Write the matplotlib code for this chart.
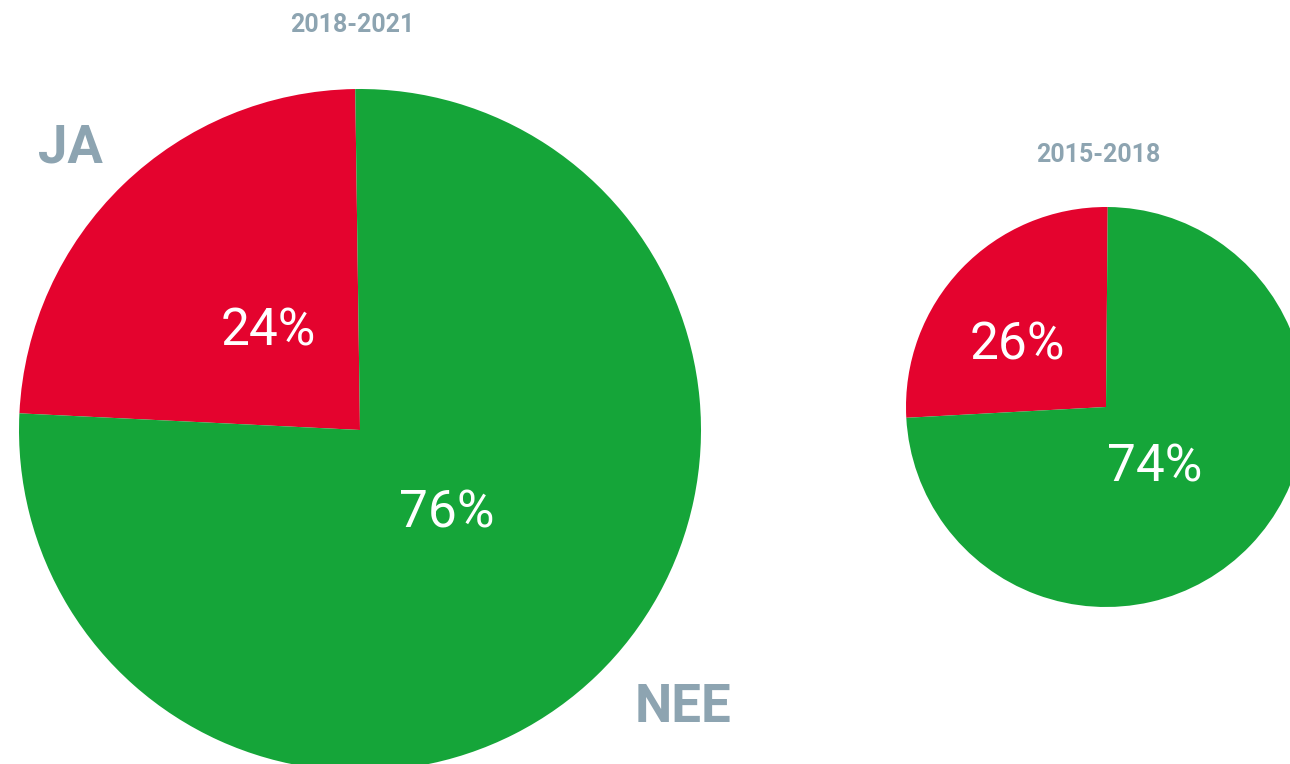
import matplotlib.pyplot as plt

# ----------------------------
# Data
# ----------------------------
labels = ["JA", "NEE"]
share_2018_2021 = [24, 76]
share_2015_2018 = [26, 74]
colors = ["#E4032E", "#15A539"]
gray = "#8DA4B1"

plt.rcParams["font.family"] = ["Roboto", "DejaVu Sans"]

fig = plt.figure(figsize=(12.9, 7.64), dpi=100)
ax = fig.add_axes([0, 0, 1, 1])

# ----------------------------
# Pies (y axis is flipped below, so angles run clockwise in data)
# ----------------------------
ax.pie(share_2018_2021, colors=colors, startangle=-90.8, counterclock=False,
       center=(360, 430), radius=341, frame=True,
       wedgeprops=dict(linewidth=0))
ax.pie(share_2015_2018, colors=colors, startangle=-89.5, counterclock=False,
       center=(1106, 407), radius=200, frame=True,
       wedgeprops=dict(linewidth=0))
ax.set_xlim(0, 1290)
ax.set_ylim(764, 0)
ax.set_aspect("equal")
ax.axis("off")

# percentage labels
pct_style = dict(color="white", fontsize=37, fontweight="normal",
                 ha="center", va="center")
ax.text(268, 331, f"{share_2018_2021[0]}%", **pct_style)
ax.text(447, 514, f"{share_2018_2021[1]}%", **pct_style)
ax.text(1017, 345, f"{share_2015_2018[0]}%", **pct_style)
ax.text(1155, 467, f"{share_2015_2018[1]}%", **pct_style)

# titles and category labels
ax.text(352, 25, "2018-2021", color=gray, fontsize=18, fontweight="bold",
        ha="center", va="center")
ax.text(1098, 155, "2015-2018", color=gray, fontsize=18, fontweight="bold",
        ha="center", va="center")
ax.text(70, 148, labels[0], color=gray, fontsize=38, fontweight="bold",
        ha="center", va="center")
ax.text(683, 707, labels[1], color=gray, fontsize=38, fontweight="bold",
        ha="center", va="center")

fig.savefig("out.png", dpi=100)
